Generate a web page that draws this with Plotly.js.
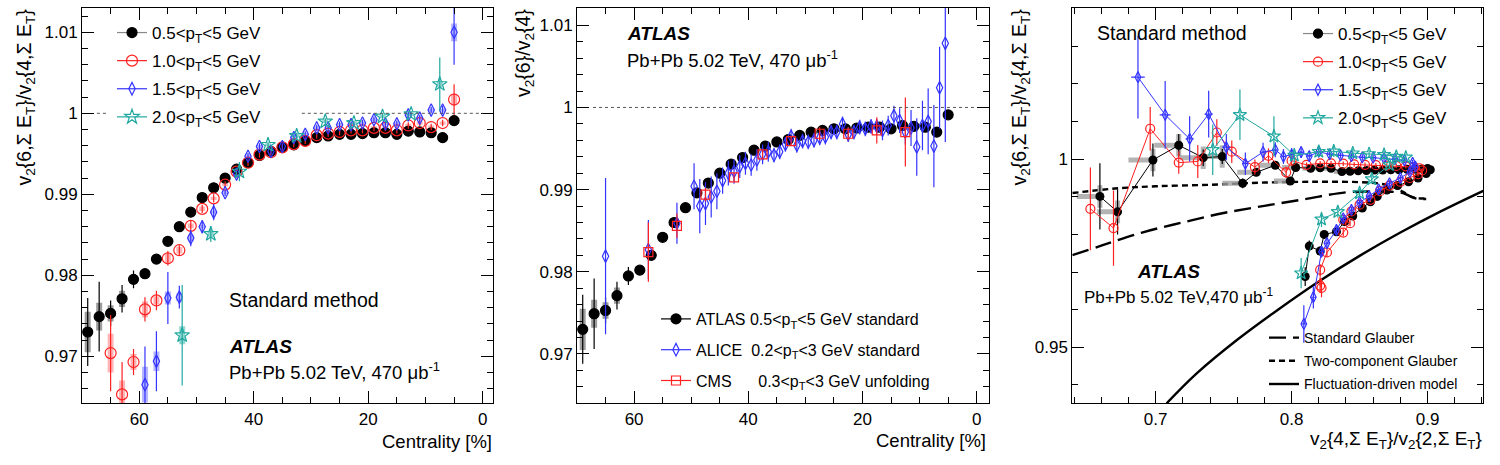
<!DOCTYPE html>
<html><head><meta charset="utf-8">
<script src="https://cdn.plot.ly/plotly-3.0.1.min.js"></script>
<style>html,body{margin:0;padding:0;background:#fff}#plot{width:1500px;height:465px}</style>
</head><body><div id="plot"></div>
<script>
// ---------------- Panel 1: v2{6,SumET}/v2{4,SumET} vs centrality ----------------
const cent05 = [5,7,9,11,13,15,17,19,21,23,25,27,29,31,33,35,37,39,41,43,45,47,49,51,53,55,57,59,61,63,65,67,69];
const v05 = [0.9991,0.9970,0.9976,0.9977,0.9978,0.9974,0.9976,0.9976,0.9975,0.9974,0.9974,0.9972,0.9970,0.9966,0.9961,0.9958,0.9953,0.9948,0.9939,0.9931,0.9920,0.9908,0.9896,0.9878,0.9860,0.9842,0.9820,0.9802,0.9795,0.9771,0.9753,0.9749,0.9730];
const stat05 = [0.0003,0.0002,0.0002,0.0002,0.0002,0.0002,0.0002,0.0002,0.0002,0.0002,0.0002,0.0002,0.0002,0.0002,0.0002,0.0002,0.0002,0.0002,0.0002,0.0002,0.0002,0.0002,0.0003,0.0003,0.0003,0.0003,0.0004,0.0004,0.0011,0.0017,0.0016,0.0043,0.0042];
const sys05 = [0.0002,0.0002,0.0002,0.0002,0.0002,0.0002,0.0002,0.0002,0.0002,0.0002,0.0002,0.0002,0.0002,0.0002,0.0002,0.0002,0.0002,0.0002,0.0002,0.0002,0.0002,0.0002,0.0002,0.0002,0.0002,0.0002,0.0003,0.0004,0.0005,0.0010,0.0010,0.0017,0.0025];

const cent10 = [5,7,9,11,13,15,17,19,21,23,25,27,29,31,33,35,37,39,41,43,45,47,49,51,53,55,57,59,61,63,65];
const v10 = [1.0017,0.9988,0.9983,0.9988,0.9985,0.9979,0.9982,0.9982,0.9979,0.9979,0.9977,0.9975,0.9973,0.9966,0.9962,0.9958,0.9952,0.9949,0.9939,0.9928,0.9912,0.9895,0.9882,0.9861,0.9831,0.9821,0.9769,0.9758,0.9693,0.9653,0.9704];
const stat10 = [0.0019,0.0004,0.0004,0.0004,0.0004,0.0004,0.0004,0.0004,0.0004,0.0004,0.0004,0.0004,0.0004,0.0004,0.0004,0.0004,0.0004,0.0004,0.0004,0.0004,0.0004,0.0005,0.0005,0.0006,0.0006,0.0009,0.0012,0.0015,0.0016,0.0040,0.0047];
const sys10 = [0.0007,0.0002,0.0002,0.0002,0.0002,0.0002,0.0002,0.0002,0.0002,0.0002,0.0002,0.0002,0.0002,0.0002,0.0002,0.0002,0.0002,0.0002,0.0002,0.0002,0.0002,0.0002,0.0003,0.0003,0.0004,0.0006,0.0005,0.0010,0.0010,0.0017,0.0024];

const cent15 = [5,7,9,11,13,15,17,19,21,23,25,27,29,31,33,35,37,39,41,43,45,47,49,51,53,55,57,59];
const v15 = [1.0100,1.0004,1.0004,0.9994,0.9998,0.9987,0.9987,0.9992,0.9988,0.9986,0.9986,0.9982,0.9982,0.9974,0.9970,0.9959,0.9953,0.9959,0.9947,0.9925,0.9902,0.9878,0.9860,0.9846,0.9773,0.9772,0.9694,0.9665];
const stat15 = [0.0040,0.0005,0.0004,0.0004,0.0004,0.0004,0.0004,0.0004,0.0004,0.0004,0.0004,0.0004,0.0004,0.0004,0.0004,0.0004,0.0004,0.0004,0.0004,0.0004,0.0004,0.0010,0.0008,0.0010,0.0014,0.0032,0.0037,0.0047];
const sys15 = [0.0011,0.0002,0.0002,0.0002,0.0002,0.0002,0.0002,0.0002,0.0002,0.0002,0.0002,0.0002,0.0002,0.0002,0.0002,0.0002,0.0002,0.0002,0.0002,0.0002,0.0002,0.0002,0.0002,0.0004,0.0005,0.0008,0.0012,0.0022];

const cent20 = [7.5,12.5,17.5,22.5,27.5,32.5,37.5,42.5,47.5,52.5];
const v20 = [1.0036,0.9999,0.9996,0.9988,0.9990,0.9972,0.9961,0.9928,0.9851,0.9726];
const stat20 = [0.0033,0.0004,0.0004,0.0003,0.0004,0.0004,0.0004,0.0012,0.0010,0.0062];
const sys20 = [0.0004,0.0002,0.0002,0.0002,0.0002,0.0002,0.0002,0.0003,0.0004,0.0011];

// ---------------- Panel 2: comparison with ALICE and CMS ----------------
const centAlice = [5.5,6.5,7.5,8.5,9.5,10.5,11.5,12.5,13.5,14.5,15.5,16.5,17.5,18.5,19.5,20.5,21.5,22.5,23.5,24.5,25.5,26.5,27.5,28.5,29.5,30.5,31.5,32.5,33.5,34.5,35.5,36.5,37.5,38.5,39.5,40.5,41.5,42.5,43.5,44.5,45.5,46.5,47.5,48.5,49.5,52.5,57.5,65];
const vAlice = [1.0078,1.0024,0.9953,0.9983,0.9978,0.9952,0.9975,0.9970,0.9984,0.9990,0.9978,0.9972,0.9977,0.9977,0.9974,0.9976,0.9970,0.9967,0.9980,0.9970,0.9970,0.9964,0.9963,0.9960,0.9958,0.9959,0.9954,0.9965,0.9955,0.9946,0.9942,0.9946,0.9943,0.9936,0.9930,0.9932,0.9928,0.9922,0.9920,0.9911,0.9898,0.9891,0.9883,0.9880,0.9904,0.9859,0.9827,0.9819];
const errAlice = [0.0120,0.0050,0.0050,0.0040,0.0030,0.0035,0.0022,0.0015,0.0015,0.0012,0.0012,0.0012,0.0009,0.0009,0.0009,0.0009,0.0009,0.0009,0.0009,0.0009,0.0009,0.0009,0.0009,0.0009,0.0009,0.0009,0.0009,0.0009,0.0009,0.0009,0.0009,0.0012,0.0012,0.0013,0.0013,0.0014,0.0014,0.0015,0.0015,0.0016,0.0022,0.0025,0.0026,0.0033,0.0028,0.0025,0.0036,0.0095];

const centCms = [12.5,17.5,22.5,27.5,32.5,37.5,42.5,47.5,52.5,57.5];
const vCms = [0.9970,0.9972,0.9968,0.9968,0.9959,0.9943,0.9915,0.9894,0.9856,0.9824];
const errCms = [0.0042,0.0016,0.0008,0.0008,0.0006,0.0005,0.0005,0.0008,0.0015,0.0036];

// ---------------- Panel 3: v2{6}/v2{4} vs v2{4}/v2{2} ----------------
const p05x = [0.659,0.672,0.698,0.717,0.735,0.749,0.764,0.774,0.788,0.799,0.803,0.814,0.821,0.829,0.837,0.843,0.849,0.855,0.861,0.867,0.873,0.879,0.885,0.891,0.896,0.900,0.902,0.899,0.893,0.886,0.878,0.870,0.863,0.858,0.852,0.845,0.839,0.833,0.824,0.821,0.813,0.810];
const p05y = [0.9901,0.9860,0.9998,1.0037,1.0004,1.0007,0.9936,0.9965,0.9984,0.9942,0.9978,0.9976,0.9977,0.9976,0.9967,0.9968,0.9969,0.9970,0.9971,0.9971,0.9972,0.9972,0.9973,0.9973,0.9974,0.9975,0.9972,0.9962,0.9950,0.9940,0.9930,0.9918,0.9901,0.9887,0.9870,0.9849,0.9834,0.9807,0.9800,0.9756,0.9769,0.9688];
const p05ey = [0.0088,0.0060,0.0044,0.0030,0.0022,0.0020,0.0013,0.0010,0.0010,0.0008,0.0006,0.0004,0.0004,0.0004,0.0004,0.0004,0.0004,0.0004,0.0004,0.0004,0.0004,0.0004,0.0004,0.0004,0.0004,0.0004,0.0004,0.0004,0.0004,0.0004,0.0004,0.0004,0.0004,0.0004,0.0004,0.0004,0.0004,0.0006,0.0008,0.0012,0.0015,0.0025];
const p05sx = [0.0170,0.0150,0.0180,0.0180,0.0170,0.0160,0.0150,0.0140,0.0130,0.0120,0.0100,0.0060,0.0060,0.0060,0.0060,0.0060,0.0060,0.0060,0.0060,0.0060,0.0060,0.0060,0.0060,0.0060,0.0060,0.0060,0.0030,0.0030,0.0030,0.0030,0.0030,0.0030,0.0030,0.0030,0.0030,0.0030,0.0030,0.0030,0.0030,0.0030,0.0030,0.0030];
const p05sy = [0.0030,0.0030,0.0030,0.0030,0.0030,0.0030,0.0010,0.0010,0.0010,0.0010,0.0010,0.0010,0.0010,0.0010,0.0010,0.0010,0.0010,0.0010,0.0010,0.0010,0.0010,0.0010,0.0010,0.0010,0.0010,0.0010,0.0010,0.0010,0.0010,0.0010,0.0010,0.0010,0.0010,0.0010,0.0010,0.0010,0.0010,0.0010,0.0010,0.0010,0.0010,0.0010];

const p10x = [0.652,0.669,0.696,0.717,0.731,0.745,0.756,0.773,0.783,0.796,0.800,0.811,0.821,0.829,0.838,0.846,0.854,0.862,0.870,0.877,0.884,0.890,0.894,0.896,0.893,0.887,0.880,0.872,0.865,0.858,0.850,0.844,0.838,0.843,0.838,0.826,0.821,0.821,0.822];
const p10y = [0.9868,0.9817,1.0081,0.9991,0.9994,1.0071,1.0020,0.9979,1.0009,0.9965,0.9996,0.9985,0.9989,0.9989,0.9988,0.9986,0.9985,0.9984,0.9983,0.9982,0.9981,0.9979,0.9976,0.9970,0.9960,0.9950,0.9940,0.9930,0.9915,0.9892,0.9879,0.9861,0.9839,0.9830,0.9805,0.9752,0.9706,0.9664,0.9658];
const p10ey = [0.0110,0.0100,0.0058,0.0030,0.0044,0.0035,0.0030,0.0020,0.0020,0.0015,0.0012,0.0006,0.0006,0.0006,0.0006,0.0006,0.0006,0.0006,0.0006,0.0006,0.0006,0.0006,0.0006,0.0006,0.0006,0.0006,0.0006,0.0006,0.0006,0.0006,0.0006,0.0006,0.0006,0.0008,0.0010,0.0012,0.0015,0.0020,0.0025];

const p15x = [0.687,0.707,0.725,0.739,0.752,0.766,0.779,0.788,0.794,0.800,0.807,0.813,0.820,0.828,0.836,0.844,0.852,0.860,0.868,0.876,0.883,0.889,0.891,0.887,0.880,0.872,0.864,0.857,0.850,0.844,0.838,0.833,0.826,0.822,0.816,0.809];
const p15y = [1.0218,1.0118,1.0054,1.0120,1.0032,0.9988,1.0019,1.0025,1.0007,1.0012,1.0019,1.0008,1.0020,1.0013,1.0010,1.0008,1.0005,1.0004,1.0002,1.0000,0.9997,0.9990,0.9980,0.9966,0.9950,0.9936,0.9920,0.9902,0.9885,0.9865,0.9843,0.9812,0.9777,0.9754,0.9633,0.9562];
const p15ey = [0.0110,0.0090,0.0060,0.0062,0.0035,0.0030,0.0025,0.0020,0.0020,0.0018,0.0015,0.0012,0.0012,0.0010,0.0008,0.0008,0.0008,0.0008,0.0008,0.0008,0.0008,0.0008,0.0008,0.0008,0.0008,0.0008,0.0008,0.0008,0.0008,0.0008,0.0008,0.0010,0.0012,0.0015,0.0030,0.0050];
const p15ex = [0.0050,0.0040,0.0030,0.0030,0.0030,0.0020,0.0020,0.0015,0.0015,0.0015,0.0015,0.0015,0.0015,0.0015,0.0015,0.0015,0.0015,0.0015,0.0015,0.0015,0.0015,0.0015,0.0015,0.0015,0.0015,0.0015,0.0015,0.0015,0.0015,0.0015,0.0015,0.0015,0.0015,0.0015,0.0020,0.0020];

const p20x = [0.742,0.762,0.787,0.802,0.820,0.831,0.845,0.857,0.868,0.877,0.884,0.872,0.859,0.850,0.834,0.822,0.807];
const p20y = [1.0025,1.0118,1.0061,1.0010,1.0020,1.0021,1.0016,1.0014,1.0012,1.0007,1.0005,0.9985,0.9947,0.9910,0.9860,0.9840,0.9697];
const p20ey = [0.0067,0.0067,0.0053,0.0020,0.0015,0.0015,0.0012,0.0010,0.0010,0.0010,0.0010,0.0010,0.0012,0.0012,0.0015,0.0020,0.0040];

// model curves
const sgX = [0.6387,0.66,0.69,0.72,0.75,0.78,0.81,0.84,0.86,0.875,0.882,0.887,0.892,0.899];
const sgY = [0.9745,0.9770,0.9805,0.9832,0.9857,0.9876,0.9894,0.9912,0.9914,0.9913,0.9910,0.9902,0.9895,0.9894];
const tcX = [0.6387,0.67,0.70,0.74,0.78,0.82,0.85,0.865,0.875,0.882,0.888,0.893,0.899];
const tcY = [0.9910,0.9922,0.9928,0.9932,0.9938,0.9940,0.9939,0.9935,0.9926,0.9913,0.9900,0.9896,0.9896];
const fdX = [0.7081,0.73,0.76,0.79,0.82,0.85,0.88,0.91,0.941];
const fdY = [0.9351,0.9430,0.9520,0.9600,0.9675,0.9743,0.9805,0.9862,0.9916];

// labels
const lab05 = '0.5&lt;p<sub>T</sub>&lt;5 GeV';
const lab10 = '1.0&lt;p<sub>T</sub>&lt;5 GeV';
const lab15 = '1.5&lt;p<sub>T</sub>&lt;5 GeV';
const lab20 = '2.0&lt;p<sub>T</sub>&lt;5 GeV';
const labAtlas = 'ATLAS 0.5&lt;p<sub>T</sub>&lt;5 GeV standard';
const labAlice = 'ALICE\u00a0 0.2&lt;p<sub>T</sub>&lt;3 GeV standard';
const labCms = 'CMS\u00a0\u00a0\u00a0\u00a0\u00a0 0.3&lt;p<sub>T</sub>&lt;3 GeV unfolding';
const labModels = ['Standard Glauber','Two-component Glauber','Fluctuation-driven model'];

// ---------------- styling ----------------
const FONT = 'Liberation Sans, Arial, Helvetica, sans-serif';
const W = 1500, H = 465;
const fx = X => X / W, fy = Y => 1 - Y / H;
const C_BLK = '#000000', C_RED = '#ff2020', C_BLU = '#3333ff', C_TEA = '#20a8a0';

function sysTrace(x, y, e, col, xa, ya) {
  return {x: x, y: y, type: 'scatter', mode: 'markers', xaxis: xa, yaxis: ya, showlegend: false,
    marker: {size: 2, opacity: 0},
    error_y: {type: 'data', array: e, visible: true, thickness: 6, width: 0, color: col}};
}
function dataTrace(x, y, e, col, sym, size, xa, ya) {
  return {x: x, y: y, type: 'scatter', mode: 'markers', xaxis: xa, yaxis: ya, showlegend: false,
    marker: {symbol: sym, size: size, color: col, line: {color: col, width: 1.2}},
    error_y: {type: 'data', array: e, visible: true, thickness: 1.2, width: 0, color: col}};
}
function legTrace(name, sym, size, mcol, lcol, leg, dash, lw, mode) {
  return {x: [null], y: [null], type: 'scatter', mode: mode || 'lines+markers', name: name, legend: leg,
    legendgroup: name, xaxis: 'x', yaxis: 'y',
    marker: {symbol: sym, size: size, color: mcol, line: {color: mcol, width: 1.2}},
    line: {color: lcol, width: lw || 1.2, dash: dash || 'solid'}};
}

const traces = [
  // panel 1
  sysTrace(cent05, v05, sys05, 'rgba(140,140,140,0.85)', 'x', 'y'),
  sysTrace(cent10, v10, sys10, 'rgba(255,120,120,0.55)', 'x', 'y'),
  sysTrace(cent15, v15, sys15, 'rgba(120,120,255,0.55)', 'x', 'y'),
  sysTrace(cent20, v20, sys20, 'rgba(60,180,170,0.55)', 'x', 'y'),
  dataTrace(cent05, v05, stat05, C_BLK, 'circle', 10, 'x', 'y'),
  dataTrace(cent10, v10, stat10, C_RED, 'circle-open', 11, 'x', 'y'),
  dataTrace(cent15, v15, stat15, C_BLU, 'diamond-tall-open', 9, 'x', 'y'),
  dataTrace(cent20, v20, stat20, C_TEA, 'star-open', 11, 'x', 'y'),
  // panel 2
  sysTrace(cent05, v05, sys05, 'rgba(140,140,140,0.85)', 'x2', 'y2'),
  dataTrace(cent05, v05, stat05, C_BLK, 'circle', 10, 'x2', 'y2'),
  dataTrace(centAlice, vAlice, errAlice, C_BLU, 'diamond-tall-open', 9, 'x2', 'y2'),
  dataTrace(centCms, vCms, errCms, C_RED, 'square-open', 9, 'x2', 'y2'),
  // panel 3 models
  {x: sgX, y: sgY, type: 'scatter', mode: 'lines', xaxis: 'x3', yaxis: 'y3', showlegend: false,
   line: {color: '#000', width: 2.4, dash: '17px,7px', shape: 'spline'}},
  {x: tcX, y: tcY, type: 'scatter', mode: 'lines', xaxis: 'x3', yaxis: 'y3', showlegend: false,
   line: {color: '#000', width: 2.4, dash: '6px,4px', shape: 'spline'}},
  {x: fdX, y: fdY, type: 'scatter', mode: 'lines', xaxis: 'x3', yaxis: 'y3', showlegend: false,
   line: {color: '#000', width: 2.4, shape: 'spline'}},
  // panel 3 data
  {x: p05x, y: p05y, type: 'scatter', mode: 'markers', xaxis: 'x3', yaxis: 'y3', showlegend: false,
   marker: {size: 2, opacity: 0},
   error_x: {type: 'data', symmetric: false, array: p05sx.map(() => 0.0005), arrayminus: p05sx, thickness: 5, width: 0, color: 'rgba(160,160,160,0.8)'},
   error_y: {type: 'data', array: p05sy, thickness: 5, width: 0, color: 'rgba(160,160,160,0.8)'}},
  {x: p05x, y: p05y, type: 'scatter', mode: 'lines+markers', xaxis: 'x3', yaxis: 'y3', showlegend: false,
   marker: {symbol: 'circle', size: 9, color: C_BLK}, line: {color: C_BLK, width: 1},
   error_y: {type: 'data', array: p05ey, thickness: 1.2, width: 0, color: C_BLK}},
  {x: p10x, y: p10y, type: 'scatter', mode: 'lines+markers', xaxis: 'x3', yaxis: 'y3', showlegend: false,
   marker: {symbol: 'circle-open', size: 9, color: C_RED, line: {width: 1.2}}, line: {color: C_RED, width: 1},
   error_y: {type: 'data', array: p10ey, thickness: 1.2, width: 0, color: C_RED}},
  {x: p15x, y: p15y, type: 'scatter', mode: 'lines+markers', xaxis: 'x3', yaxis: 'y3', showlegend: false,
   marker: {symbol: 'diamond-tall-open', size: 8, color: C_BLU, line: {width: 1.2}}, line: {color: C_BLU, width: 1},
   error_y: {type: 'data', array: p15ey, thickness: 1.2, width: 0, color: C_BLU},
   error_x: {type: 'data', array: p15ex, thickness: 1.2, width: 0, color: C_BLU}},
  {x: p20x, y: p20y, type: 'scatter', mode: 'lines+markers', xaxis: 'x3', yaxis: 'y3', showlegend: false,
   marker: {symbol: 'star-open', size: 10, color: C_TEA, line: {width: 1.2}}, line: {color: C_TEA, width: 1},
   error_y: {type: 'data', array: p20ey, thickness: 1.2, width: 0, color: C_TEA}},
  // legends
  legTrace(lab05, 'circle', 10, C_BLK, '#888888', 'legend'),
  legTrace(lab10, 'circle-open', 11, C_RED, C_RED, 'legend'),
  legTrace(lab15, 'diamond-tall-open', 9, C_BLU, C_BLU, 'legend'),
  legTrace(lab20, 'star-open', 11, C_TEA, C_TEA, 'legend'),
  legTrace(labAtlas, 'circle', 10, C_BLK, '#000', 'legend2'),
  legTrace(labAlice, 'diamond-tall-open', 9, C_BLU, C_BLU, 'legend2'),
  legTrace(labCms, 'square-open', 9, C_RED, C_RED, 'legend2'),
  legTrace(lab05 + ' ', 'circle', 9, C_BLK, '#888888', 'legend3'),
  legTrace(lab10 + ' ', 'circle-open', 9, C_RED, C_RED, 'legend3'),
  legTrace(lab15 + ' ', 'diamond-tall-open', 8, C_BLU, C_BLU, 'legend3'),
  legTrace(lab20 + ' ', 'star-open', 10, C_TEA, C_TEA, 'legend3'),
  legTrace(labModels[0], 'circle', 1, '#000', '#000', 'legend4', '17px,7px', 2.4, 'lines'),
  legTrace(labModels[1], 'circle', 1, '#000', '#000', 'legend4', '6px,4px', 2.4, 'lines'),
  legTrace(labModels[2], 'circle', 1, '#000', '#000', 'legend4', 'solid', 2.4, 'lines')
];

const yDom = [fy(403.3), fy(8)];
function ax(dom, range, dtick, mdtick) {
  return {domain: dom, range: range, dtick: dtick, tick0: 0, ticks: 'inside', ticklen: 12, tickwidth: 1,
    tickcolor: '#000', showline: true, linecolor: '#000', linewidth: 1, mirror: 'allticks',
    showgrid: false, zeroline: false, tickfont: {family: FONT, size: 17, color: '#000'},
    minor: {dtick: mdtick, tick0: 0, ticks: 'inside', ticklen: 6, tickcolor: '#000', showgrid: false}};
}
const layout = {
  width: W, height: H, margin: {l: 0, r: 0, t: 0, b: 0}, paper_bgcolor: '#fff', plot_bgcolor: '#fff',
  font: {family: FONT, color: '#000'}, showlegend: true, hovermode: false,
  xaxis: Object.assign(ax([fx(82), fx(493.3)], [70, -1.85], 20, 5), {anchor: 'y'}),
  yaxis: Object.assign(ax(yDom, [0.9642, 1.013], 0.01, 0.002), {anchor: 'x'}),
  xaxis2: Object.assign(ax([fx(577), fx(988.7)], [70, -2.1], 20, 5), {anchor: 'y2'}),
  yaxis2: Object.assign(ax(yDom, [0.964, 1.0121], 0.01, 0.002), {anchor: 'x2'}),
  xaxis3: Object.assign(ax([fx(1072.3), fx(1483.3)], [0.6387, 0.941], 0.1, 0.02), {anchor: 'y3'}),
  yaxis3: Object.assign(ax(yDom, [0.9351, 1.0402], 0.05, 0.01), {anchor: 'x3'}),
  legend: {x: fx(112), y: fy(15), xanchor: 'left', yanchor: 'top', bgcolor: 'rgba(0,0,0,0)',
    font: {family: FONT, size: 17}, traceorder: 'grouped', tracegroupgap: 3},
  legend2: {x: fx(656), y: fy(302), xanchor: 'left', yanchor: 'top', bgcolor: 'rgba(0,0,0,0)',
    font: {family: FONT, size: 16}, traceorder: 'grouped', tracegroupgap: 7},
  legend3: {x: fx(1298), y: fy(16), xanchor: 'left', yanchor: 'top', bgcolor: 'rgba(0,0,0,0)',
    font: {family: FONT, size: 17}, traceorder: 'grouped', tracegroupgap: 3},
  legend4: {x: fx(1264), y: fy(322), xanchor: 'left', yanchor: 'top', bgcolor: 'rgba(0,0,0,0)',
    font: {family: FONT, size: 14}, traceorder: 'grouped', tracegroupgap: 2},
  shapes: [
    {type: 'line', xref: 'x', yref: 'y', x0: 67.4, x1: 65.7, y0: 1, y1: 1, line: {color: '#555', width: 1, dash: 'dot'}},
    {type: 'line', xref: 'x', yref: 'y', x0: 31.6, x1: 0, y0: 1, y1: 1, line: {color: '#555', width: 1, dash: 'dot'}},
    {type: 'line', xref: 'x2', yref: 'y2', x0: 67.2, x1: 0, y0: 1, y1: 1, line: {color: '#555', width: 1, dash: 'dot'}}
  ],
  annotations: [
    // axis titles
    {text: 'v<sub>2</sub>{6,Σ E<sub>T</sub>}/v<sub>2</sub>{4,Σ E<sub>T</sub>}', textangle: -90, xref: 'paper', yref: 'paper',
     x: fx(25), y: fy(7), xanchor: 'center', yanchor: 'top', showarrow: false, font: {size: 19.5}},
    {text: 'v<sub>2</sub>{6}/v<sub>2</sub>{4}', textangle: -90, xref: 'paper', yref: 'paper',
     x: fx(525), y: fy(7), xanchor: 'center', yanchor: 'top', showarrow: false, font: {size: 19.5}},
    {text: 'v<sub>2</sub>{6,Σ E<sub>T</sub>}/v<sub>2</sub>{4,Σ E<sub>T</sub>}', textangle: -90, xref: 'paper', yref: 'paper',
     x: fx(1020), y: fy(7), xanchor: 'center', yanchor: 'top', showarrow: false, font: {size: 19.5}},
    {text: 'Centrality [%]', xref: 'paper', yref: 'paper', x: fx(494), y: fy(441.7), xanchor: 'right', yanchor: 'middle', showarrow: false, font: {size: 18.5}},
    {text: 'Centrality [%]', xref: 'paper', yref: 'paper', x: fx(988), y: fy(440.7), xanchor: 'right', yanchor: 'middle', showarrow: false, font: {size: 18.5}},
    {text: 'v<sub>2</sub>{4,Σ E<sub>T</sub>}/v<sub>2</sub>{2,Σ E<sub>T</sub>}', xref: 'paper', yref: 'paper', x: fx(1484), y: fy(440), xanchor: 'right', yanchor: 'middle', showarrow: false, font: {size: 19}},
    // panel 1 text
    {text: 'Standard method', xref: 'paper', yref: 'paper', x: fx(227), y: fy(300), xanchor: 'left', yanchor: 'middle', showarrow: false, font: {size: 19.5}},
    {text: '<b><i>ATLAS</i></b>', xref: 'paper', yref: 'paper', x: fx(227), y: fy(346.7), xanchor: 'left', yanchor: 'middle', showarrow: false, font: {size: 19}},
    {text: 'Pb+Pb 5.02 TeV, 470 μb<sup>-1</sup>', xref: 'paper', yref: 'paper', x: fx(227), y: fy(371), xanchor: 'left', yanchor: 'middle', showarrow: false, font: {size: 18.5}},
    // panel 2 text
    {text: '<b><i>ATLAS</i></b>', xref: 'paper', yref: 'paper', x: fx(625), y: fy(33.3), xanchor: 'left', yanchor: 'middle', showarrow: false, font: {size: 19}},
    {text: 'Pb+Pb 5.02 TeV, 470 μb<sup>-1</sup>', xref: 'paper', yref: 'paper', x: fx(625), y: fy(59.5), xanchor: 'left', yanchor: 'middle', showarrow: false, font: {size: 18.5}},
    // panel 3 text
    {text: 'Standard method', xref: 'paper', yref: 'paper', x: fx(1095), y: fy(33), xanchor: 'left', yanchor: 'middle', showarrow: false, font: {size: 19.5}},
    {text: '<b><i>ATLAS</i></b>', xref: 'paper', yref: 'paper', x: fx(1135), y: fy(271.7), xanchor: 'left', yanchor: 'middle', showarrow: false, font: {size: 19}},
    {text: 'Pb+Pb 5.02 TeV,470 μb<sup>-1</sup>', xref: 'paper', yref: 'paper', x: fx(1082), y: fy(296), xanchor: 'left', yanchor: 'middle', showarrow: false, font: {size: 17}}
  ]
};

Plotly.newPlot('plot', traces, layout, {staticPlot: true, displayModeBar: false});
</script></body></html>
